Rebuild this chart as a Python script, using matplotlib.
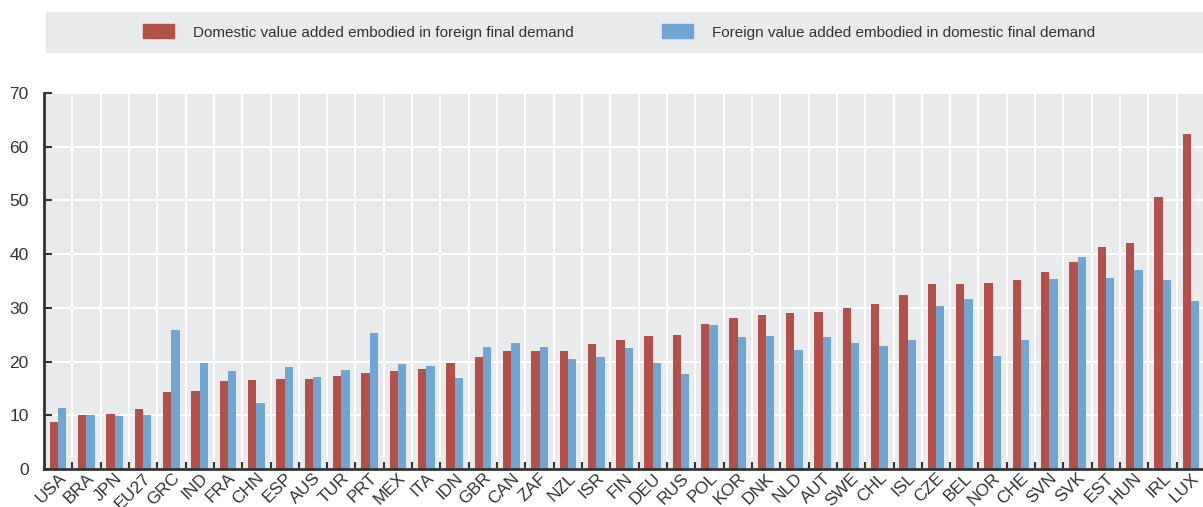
import numpy as np
import matplotlib
matplotlib.use("Agg")
import matplotlib.pyplot as plt
from matplotlib import font_manager
from matplotlib.patches import Rectangle, Patch

# data
countries = ["USA", "BRA", "JPN", "EU27", "GRC", "IND", "FRA", "CHN", "ESP", "AUS",
             "TUR", "PRT", "MEX", "ITA", "IDN", "GBR", "CAN", "ZAF", "NZL", "ISR",
             "FIN", "DEU", "RUS", "POL", "KOR", "DNK", "NLD", "AUT", "SWE", "CHL",
             "ISL", "CZE", "BEL", "NOR", "CHE", "SVN", "SVK", "EST", "HUN", "IRL", "LUX"]
domestic_va = [8.7, 10.0, 10.3, 11.1, 14.4, 14.6, 16.4, 16.6, 16.7, 16.8,
               17.3, 17.8, 18.2, 18.6, 19.8, 20.9, 21.9, 21.9, 22.0, 23.2,
               24.1, 24.8, 25.0, 27.0, 28.1, 28.6, 29.0, 29.2, 30.0, 30.7,
               32.4, 34.5, 34.5, 34.6, 35.1, 36.7, 38.6, 41.4, 42.0, 50.6, 62.4]
foreign_va = [11.4, 10.1, 9.8, 10.1, 25.8, 19.8, 18.2, 12.2, 18.9, 17.1,
              18.4, 25.3, 19.6, 19.1, 17.0, 22.8, 23.5, 22.8, 20.5, 20.8,
              22.5, 19.7, 17.6, 26.9, 24.5, 24.8, 22.2, 24.5, 23.5, 22.9,
              24.0, 30.3, 31.7, 21.0, 24.1, 35.3, 39.5, 35.6, 37.1, 35.1, 31.3]
series_names = ["Domestic value added embodied in foreign final demand",
                "Foreign value added embodied in domestic final demand"]

RED = "#b4504a"
BLUE = "#6fa6d3"
GREY_BG = "#e9eaec"
DARK = "#333333"

installed = {f.name for f in font_manager.fontManager.ttflist}
fam = ["Liberation Sans Narrow"] if "Liberation Sans Narrow" in installed else []
plt.rcParams["font.family"] = fam + ["Liberation Sans", "DejaVu Sans"]

fig = plt.figure(figsize=(12.03, 5.07), dpi=100)
ax = fig.add_axes([44 / 1203, 38 / 507, 1161 / 1203, 376 / 507])
ax.set_facecolor(GREY_BG)

x = np.arange(len(countries))
w = 0.294
ax.bar(x - w / 2, domestic_va, w, color=RED, zorder=3)
ax.bar(x + w / 2, foreign_va, w, color=BLUE, zorder=3)

ax.set_xlim(-0.5, len(countries) - 0.5)
ax.set_ylim(0, 70)
ax.set_yticks(range(0, 71, 10))

# gridlines between categories
ax.set_xticks(x[:-1] + 0.5, minor=True)
ax.set_xticks(x)
ax.set_xticklabels(countries, rotation=45, ha="right", va="top",
                   rotation_mode="anchor", fontsize=12.5, color=DARK)
ax.grid(axis="y", color="white", lw=1.4, zorder=1)
ax.grid(axis="x", which="minor", color="white", lw=1.4, zorder=1)
ax.tick_params(axis="x", which="major", length=0, pad=1)
ax.tick_params(axis="x", which="minor", direction="in", length=5, width=1.5, color=DARK)
ax.tick_params(axis="y", direction="in", length=6, width=1.5, color=DARK,
               labelsize=12.5, labelcolor=DARK, pad=11)

for s in ["top", "right"]:
    ax.spines[s].set_visible(False)
for s in ["left", "bottom"]:
    ax.spines[s].set_color(DARK)
    ax.spines[s].set_linewidth(2)
    ax.spines[s].set_zorder(4)

# legend box at the top
fig.patches.append(Rectangle((46 / 1203, 1 - 52 / 507), 1 - 46 / 1203, 40 / 507,
                             transform=fig.transFigure, color=GREY_BG, zorder=0))
handles = [Patch(color=RED), Patch(color=BLUE)]
fig.legend(handles, series_names, loc="center", bbox_to_anchor=(619 / 1203, 1 - 32 / 507),
           ncol=2, frameon=False, fontsize=11, handlelength=2.03, handleheight=1.0,
           handletextpad=1.24, columnspacing=5.75, labelcolor=DARK)

fig.savefig("out.png", dpi=100)
